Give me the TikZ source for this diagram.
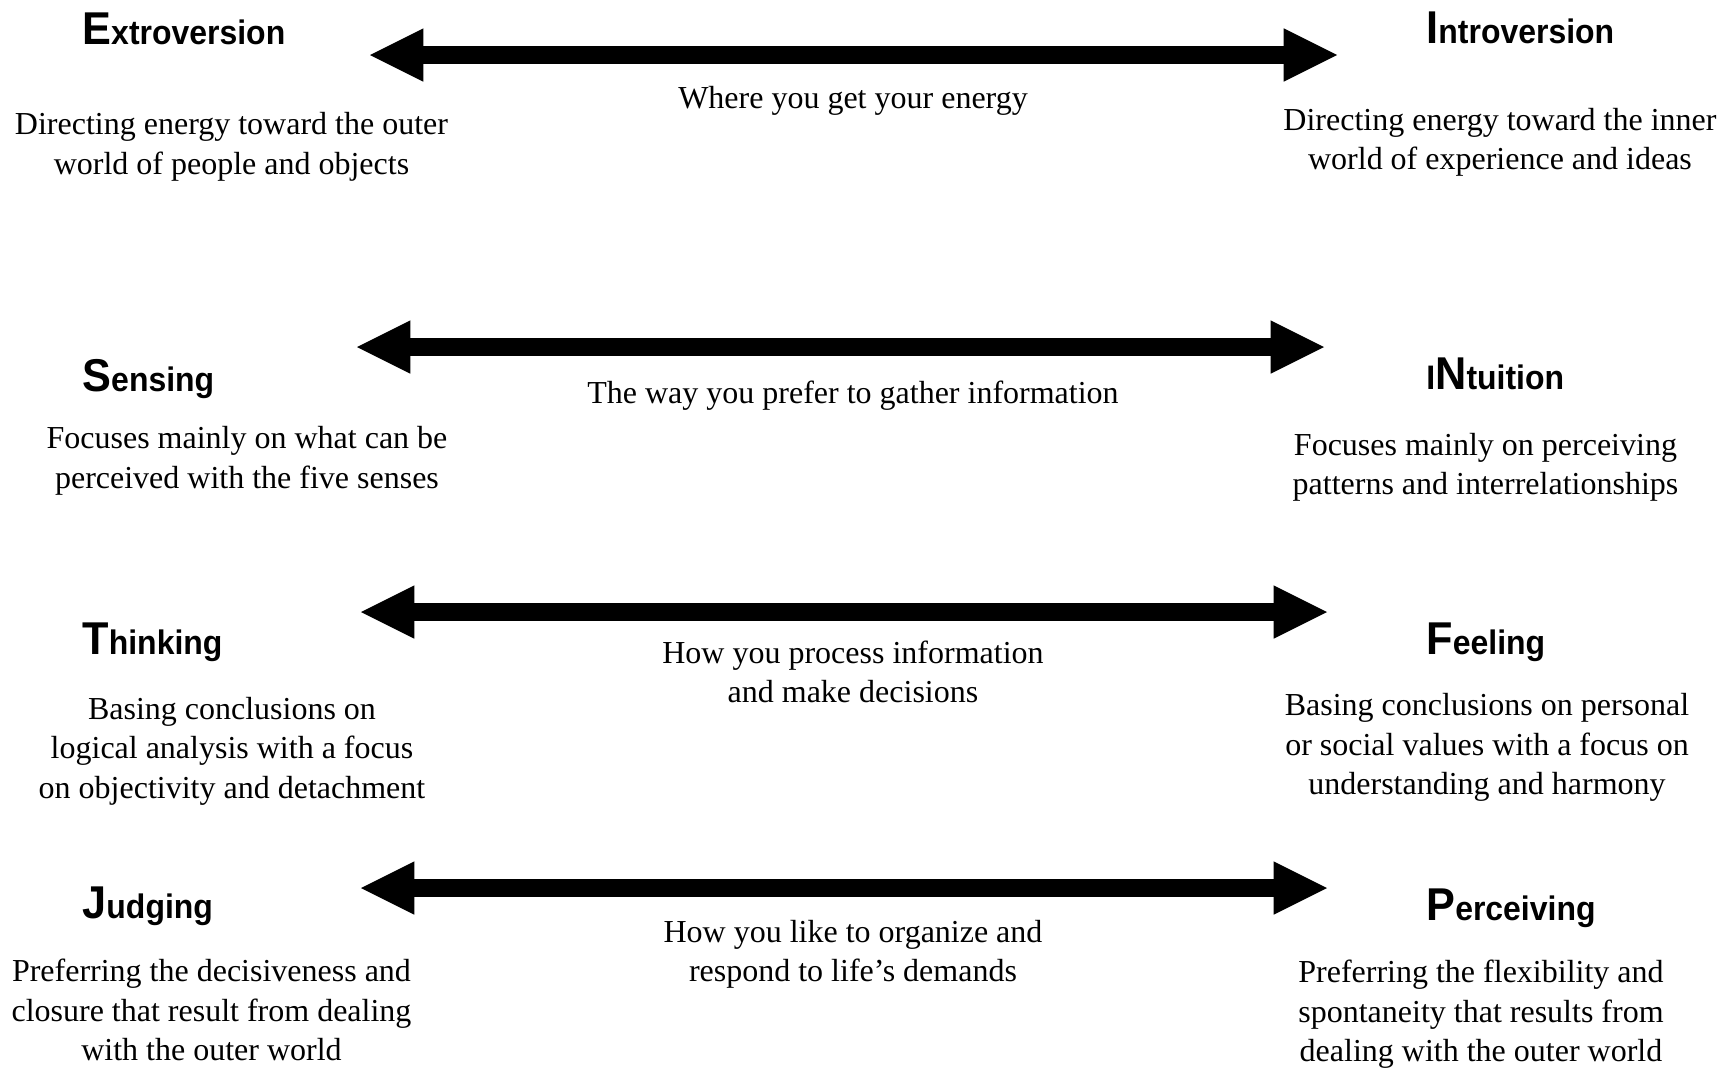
\documentclass[tikz,border=0pt]{standalone}
\usepackage{fontspec}
\setmainfont{Liberation Serif}
\newfontfamily\headfont{Liberation Sans}[FakeStretch=0.94]
\usetikzlibrary{arrows.meta}
\newcommand\biginit[1]{{\fontsize{23}{23}\selectfont #1}}

\begin{document}
\begin{tikzpicture}[x=0.5pt,y=-0.5pt,
  >={Triangle[length=26.65pt,width=26.65pt,line width=0pt]},
  pole/.style={anchor=base west,inner sep=0pt,font=\headfont\bfseries\fontsize{17}{17}\selectfont},
  gloss/.style={anchor=north,inner sep=0pt,align=center,font=\fontsize{16}{19.75}\selectfont},
  axislabel/.style={anchor=base,inner sep=0pt,font=\fontsize{16}{19.75}\selectfont}]
\useasboundingbox (0,0) rectangle (1730,1067);
\foreach \n/\y/\a/\b in {energy/55/370/1337, info/347/357/1324, decide/612/361/1327, life/888/361/1327}{
  \coordinate (\n-w) at (\a,\y);
  \coordinate (\n-e) at (\b,\y);
  \draw[<->,line width=9pt] (\n-w) -- (\n-e);
}
\node[pole] (ext) at (82,44) {\biginit{E}xtroversion};
\node[pole] (int) at (1426,43) {\biginit{I}ntroversion};
\node[pole] (sen) at (82,391) {\biginit{S}ensing};
\node[pole] (intu) at (1426,389) {I\biginit{N}tuition};
\node[pole] (thi) at (82,654) {\biginit{T}hinking};
\node[pole] (fee) at (1426,654) {\biginit{F}eeling};
\node[pole] (jud) at (82,918) {\biginit{J}udging};
\node[pole] (per) at (1426,920) {\biginit{P}erceiving};

\node[axislabel] (energy-lbl) at (853,108) {Where you get your energy};
\node[axislabel] (info-lbl) at (853,403) {The way you prefer to gather information};
\node[gloss] (decide-lbl) at (853,640.5) {How you process information\\and make decisions};
\node[gloss] (life-lbl) at (853,919.5) {How you like to organize and\\respond to life’s demands};

\node[gloss] (ext-d) at (231.5,112) {Directing energy toward the outer\\world of people and objects};
\node[gloss] (int-d) at (1500,107.7) {Directing energy toward the inner\\world of experience and ideas};
\node[gloss] (sen-d) at (247,426) {Focuses mainly on what can be\\perceived with the five senses};
\node[gloss] (intu-d) at (1485.5,432.7) {Focuses mainly on perceiving\\patterns and interrelationships};
\node[gloss] (thi-d) at (232,696.7) {Basing conclusions on\\logical analysis with a focus\\on objectivity and detachment};
\node[gloss] (fee-d) at (1487,693) {Basing conclusions on personal\\or social values with a focus on\\understanding and harmony};
\node[gloss] (jud-d) at (211.5,958.7) {Preferring the decisiveness and\\closure that result from dealing\\with the outer world};
\node[gloss] (per-d) at (1481,960) {Preferring the flexibility and\\spontaneity that results from\\dealing with the outer world};
\end{tikzpicture}
\end{document}
